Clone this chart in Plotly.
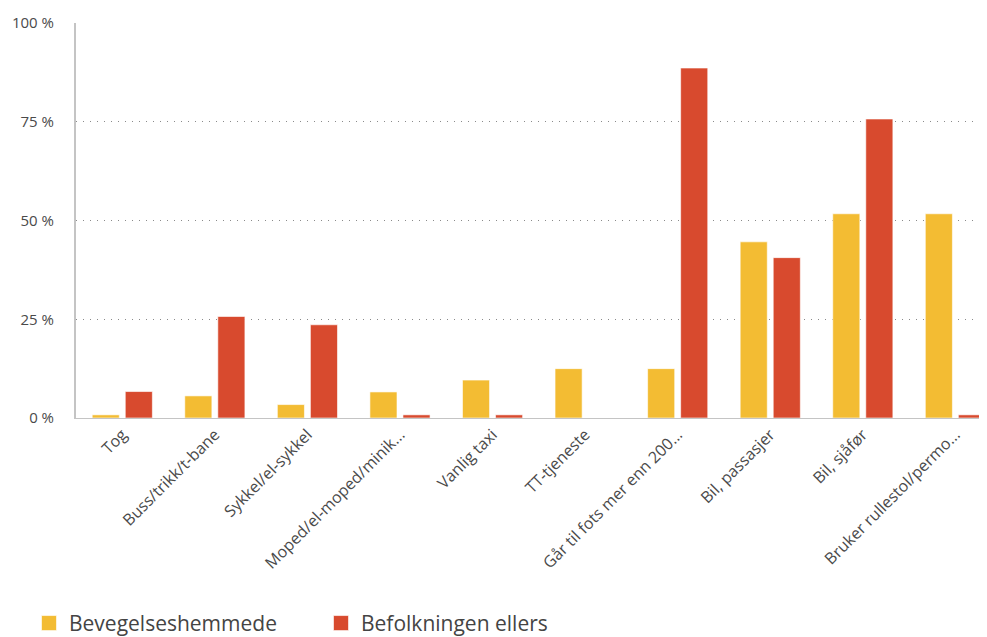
import plotly.graph_objects as go

categories = ["Tog", "Buss/trikk/t-bane", "Sykkel/el-sykkel", "Moped/el-moped/minik...",
              "Vanlig taxi", "TT-tjeneste", "Går til fots mer enn 200...", "Bil, passasjer",
              "Bil, sjåfør", "Bruker rullestol/permo..."]
bevegelseshemmede = [0.8, 5.6, 3.4, 6.6, 9.6, 12.5, 12.5, 44.6, 51.7, 51.7]
befolkningen_ellers = [6.7, 25.7, 23.6, 0.8, 0.8, 0, 88.6, 40.6, 75.7, 0.8]
y_ticks = [0, 25, 50, 75, 100]
y_tick_labels = ["0 %", "25 %", "50 %", "75 %", "100 %"]

series_names = ["Bevegelseshemmede", "Befolkningen ellers"]
series_colors = ["#F3BC33", "#D84A2E"]
series_values = [bevegelseshemmede, befolkningen_ellers]

font_family = "Open Sans, Noto Sans, sans-serif"

fig = go.Figure()
for name, color, vals in zip(series_names, series_colors, series_values):
    fig.add_trace(go.Bar(x=categories, y=vals, name=name, legendgroup=name, showlegend=False,
                         marker=dict(color=color, line=dict(color="rgba(255,255,255,0.6)", width=1))))
for name, color in zip(series_names, series_colors):
    # legend-only proxy with a larger square symbol
    fig.add_trace(go.Scatter(x=[None], y=[None], mode="markers", name=name, legendgroup=name,
                             marker=dict(symbol="square", size=15, color=color,
                                         line=dict(color="rgba(255,255,255,0.6)", width=1))))

fig.update_layout(
    width=979, height=629,
    margin=dict(l=68, r=2, t=15, b=219, autoexpand=False),
    paper_bgcolor="white", plot_bgcolor="white",
    barmode="group", bargap=0.286, bargroupgap=0.18,
    font=dict(family=font_family, color="#4a4a4a", size=15),
    showlegend=True,
    legend=dict(orientation="h", x=-0.0517, y=-0.52, xanchor="left", yanchor="middle",
                font=dict(size=21, color="#444444"), itemwidth=30, tracegroupgap=0,
                entrywidth=247),
    xaxis=dict(range=[-0.5, 9.32], tickangle=-45, showgrid=False, showline=True,
               linecolor="#c4c4c4", linewidth=1, ticks="", automargin=False,
               tickfont=dict(size=16, color="#4a4a4a"), fixedrange=True),
    yaxis=dict(range=[0, 100], tickvals=y_ticks, ticktext=y_tick_labels,
               showgrid=True, gridcolor="#8a8a8a", griddash="1px,6px", gridwidth=1,
               showline=True, linecolor="#c4c4c4", linewidth=2, zeroline=False,
               ticks="", ticklabelstandoff=17, automargin=False,
               tickfont=dict(size=15, color="#4a4a4a")),
)

fig.write_html("out.html")
